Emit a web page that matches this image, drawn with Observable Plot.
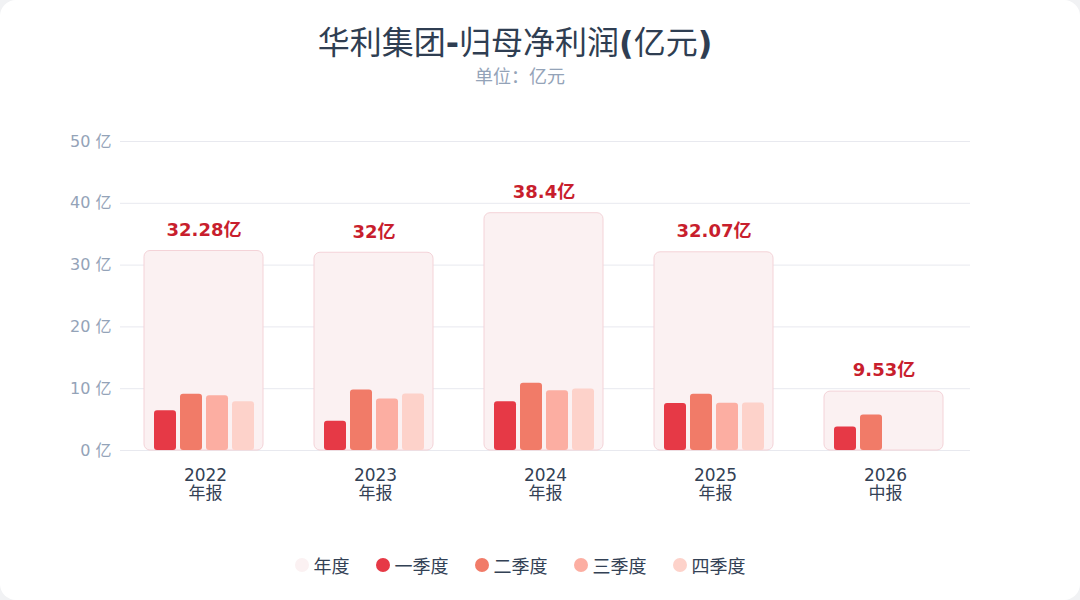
<!DOCTYPE html>
<html>
<head>
<meta charset="utf-8">
<script src="https://cdn.jsdelivr.net/npm/d3@7"></script>
<script src="https://cdn.jsdelivr.net/npm/@observablehq/plot@0.6"></script>
<style>
  html, body { margin: 0; padding: 0; background: #f1f2f4; }
  body { width: 1080px; height: 600px; overflow: hidden; font-family: "DejaVu Sans", "Noto Sans CJK SC", sans-serif; }
  #card { position: absolute; left: 0; top: 0; width: 1080px; height: 600px; background: #fff; border-radius: 16px; }
  #title { position: absolute; top: 17px; left: 0; width: 1030px; text-align: center; font-size: 32px; color: #2f3e52; font-weight: normal; }
  #title b { font-weight: bold; }
  #subtitle { position: absolute; top: 62px; left: 0; width: 1040px; text-align: center; font-size: 18px; color: #94a3b8; }
  #chart { position: absolute; top: 100px; left: 0; }
  #legend { position: absolute; top: 552px; left: 0; width: 1040px; display: flex; justify-content: center; gap: 26px; font-size: 18px; color: #334155; }
  .item { display: flex; align-items: center; gap: 5px; }
  .dot { width: 14px; height: 14px; border-radius: 50%; display: inline-block; }
</style>
</head>
<body>
<div id="card">
  <div id="title">华利集团<b>-</b>归母净利润<b>(</b>亿元<b>)</b></div>
  <div id="subtitle">单位：亿元</div>
  <div id="chart"></div>
  <div id="legend"></div>
</div>
<script>
const years = ["2022", "2023", "2024", "2025", "2026"];
const periodLabels = ["年报", "年报", "年报", "年报", "中报"];
const totals = [32.28, 32, 38.4, 32.07, 9.53];
const totalLabels = ["32.28亿", "32亿", "38.4亿", "32.07亿", "9.53亿"];
const quarters = ["一季度", "二季度", "三季度", "四季度"];
const q1 = [6.45, 4.72, 7.88, 7.62, 3.8];
const q2 = [9.1, 9.8, 10.9, 9.1, 5.73];
const q3 = [8.85, 8.35, 9.67, 7.65, null];
const q4 = [7.88, 9.13, 9.95, 7.7, null];
const yTicks = [0, 10, 20, 30, 40, 50];
const legendNames = ["年度", "一季度", "二季度", "三季度", "四季度"];
const colors = ["#fbf1f2", "#e63946", "#f17b68", "#fcaea2", "#fdd2ca"];

const series = [q1, q2, q3, q4];
const qData = [];
years.forEach((yr, i) => {
  series.forEach((s, k) => {
    if (s[i] != null) qData.push({year: yr, quarter: quarters[k], value: s[i]});
  });
});
const tData = years.map((yr, i) => ({year: yr, total: totals[i], label: totalLabels[i]}));
const fxLabel = Object.fromEntries(years.map((y, i) => [y, y + "\n" + periodLabels[i]]));

const chart = Plot.plot({
  width: 1080,
  height: 430,
  marginLeft: 120,
  marginRight: 110,
  marginTop: 41,
  marginBottom: 80,
  style: {fontFamily: "'DejaVu Sans', 'Noto Sans CJK SC', sans-serif", background: "transparent"},
  fx: {domain: years, padding: 0},
  x: {domain: quarters, paddingInner: 0.17, paddingOuter: 0.08, insetLeft: 31, insetRight: 33, axis: null},
  y: {domain: [0, 50], ticks: yTicks},
  color: {domain: quarters, range: colors.slice(1)},
  marks: [
    Plot.gridY(yTicks, {stroke: "#e8e9ef", strokeOpacity: 1}),
    Plot.axisY(yTicks, {tickSize: 0, tickPadding: 9, fontSize: 16, fill: "#94a3b8", tickFormat: d => d + " 亿", label: null}),
    Plot.axisFx({anchor: "bottom", tickSize: 0, tickPadding: 17, fontSize: 17, fill: "#334155", lineHeight: 1.08, tickFormat: d => fxLabel[d], label: null}),
    Plot.barY(tData, {fx: "year", y: "total", fill: colors[0], stroke: "#f4d3d8", strokeWidth: 1, insetLeft: 24, insetRight: 27, rx: 6}),
    Plot.barY(qData, {fx: "year", x: "quarter", y: "value", fill: "quarter", rx: 3}),
    Plot.text(tData, {fx: "year", y: "total", text: "label", dy: -21, frameAnchor: "middle", dx: -1.5, fill: "#c81e2d", fontSize: 18, fontWeight: "bold"})
  ]
});
document.getElementById("chart").appendChild(chart);

const legend = document.getElementById("legend");
legendNames.forEach((n, i) => {
  const it = document.createElement("div");
  it.className = "item";
  it.innerHTML = `<span class="dot" style="background:${colors[i]}"></span><span>${n}</span>`;
  legend.appendChild(it);
});
</script>
</body>
</html>
